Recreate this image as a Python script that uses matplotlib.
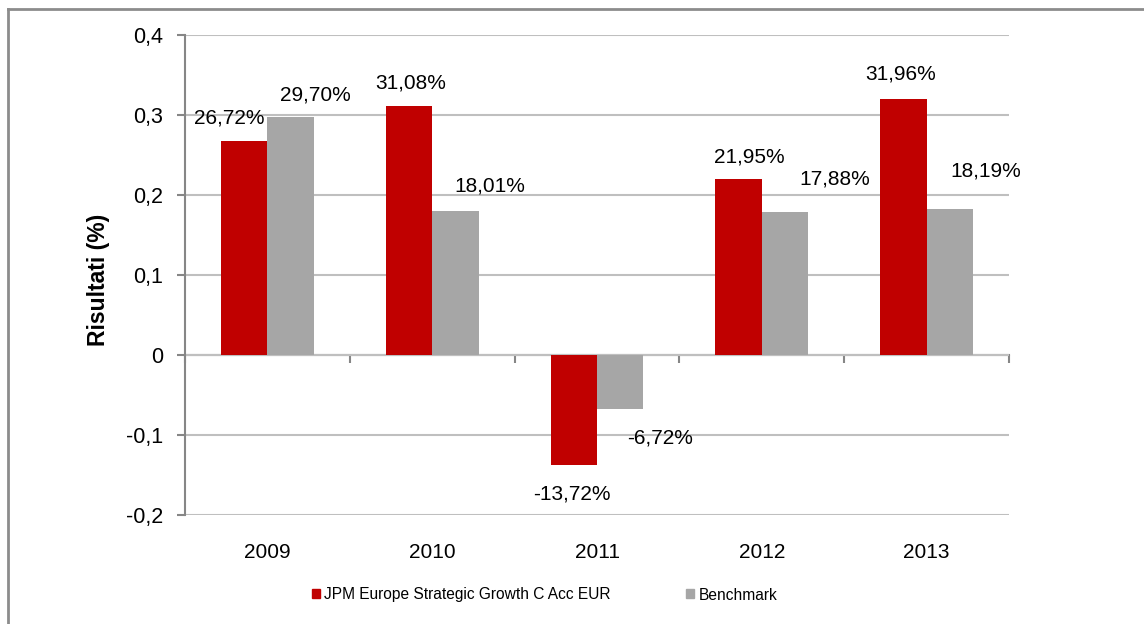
import matplotlib
matplotlib.use("Agg")
import matplotlib.pyplot as plt
from matplotlib.lines import Line2D
from matplotlib.patches import Patch
import numpy as np

years = ["2009", "2010", "2011", "2012", "2013"]
fund_values = [0.2672, 0.3108, -0.1372, 0.2195, 0.3196]
bench_values = [0.2970, 0.1801, -0.0672, 0.1788, 0.1819]
fund_name = "JPM Europe Strategic Growth C Acc EUR"
bench_name = "Benchmark"
y_ticks = [-0.2, -0.1, 0.0, 0.1, 0.2, 0.3, 0.4]

# label offsets (points) from each bar's end
fund_label_offsets = [(-11, 17), (1, 17), (-1, -21), (8, 16), (-2, 18)]
bench_label_offsets = [(18, 16), (25, 18), (29, -21), (36, 24), (26, 28)]

RED = "#C00000"
GRAY = "#A6A6A6"
AXIS = "#868686"
GRID = "#BFBFBF"
FONT = "Liberation Sans"

plt.rcParams["font.family"] = [FONT, "DejaVu Sans"]

fig = plt.figure(figsize=(11.44, 6.24), dpi=100)
ax = fig.add_axes([185 / 1144, 1 - 515 / 624, 824 / 1144, 480 / 624])

x = np.arange(len(years))
w = 0.282
b1 = ax.bar(x - w / 2, fund_values, w, color=RED, label=fund_name, zorder=3)
b2 = ax.bar(x + w / 2, bench_values, w, color=GRAY, label=bench_name, zorder=3)


def fmt_pct(v):
    return f"{v * 100:.2f}%".replace(".", ",")


for bars, vals, offs in ((b1, fund_values, fund_label_offsets),
                         (b2, bench_values, bench_label_offsets)):
    for bar, v, (dx, dy) in zip(bars, vals, offs):
        ax.annotate(fmt_pct(v), (bar.get_x() + bar.get_width() / 2, v),
                    xytext=(dx, dy), textcoords="offset points",
                    ha="center", va="center", fontsize=15, color="black")

ax.set_xlim(-0.5, len(years) - 0.5)
ax.set_ylim(-0.2, 0.4)
ax.set_yticks(y_ticks)
ax.set_yticklabels([("0" if t == 0 else f"{t:.1f}".replace(".", ",")) for t in y_ticks])
ax.yaxis.grid(True, color=GRID, linewidth=1.5, zorder=0)
ax.set_axisbelow(True)

for s in ("top", "right", "bottom"):
    ax.spines[s].set_visible(False)
ax.spines["left"].set_color(AXIS)
ax.spines["left"].set_linewidth(1.5)
ax.tick_params(axis="y", direction="out", length=6, width=1.5, color=AXIS,
               labelsize=15.5, pad=10)

# year labels below the plot
ax.set_xticks(x)
ax.set_xticklabels(years)
ax.tick_params(axis="x", length=0, labelsize=15, pad=20)

# horizontal axis line at zero with category boundary ticks
zero_frac = (0 - (-0.2)) / 0.6
sec = ax.secondary_xaxis(zero_frac)
sec.set_xticks(np.arange(-0.5, len(years), 1.0))
sec.set_xticklabels([])
sec.spines["bottom"].set_color(AXIS)
sec.spines["bottom"].set_linewidth(1.5)
sec.tick_params(axis="x", direction="out", length=6, width=1.5, color=AXIS)

ax.set_ylabel("Risultati (%)", fontsize=16.5, fontweight="bold")
ax.yaxis.set_label_coords(110 / 1144, 1 - 280 / 624, transform=fig.transFigure)

handles = [Patch(color=RED), Patch(color=GRAY)]
leg = fig.legend(handles, [fund_name, bench_name], loc="center",
                 bbox_to_anchor=(544.5 / 1144, 1 - 595 / 624), ncol=2,
                 frameon=False, fontsize=11.2, handlelength=0.51,
                 handleheight=0.51, handletextpad=0.26, columnspacing=4.9,
                 borderpad=0, borderaxespad=0)

# outer chart frame
fig.add_artist(Line2D([8 / 1144, 1.01], [1 - 9 / 624] * 2, color="#8C8C8C",
                      linewidth=2, transform=fig.transFigure))
fig.add_artist(Line2D([8 / 1144] * 2, [-0.01, 1 - 9 / 624], color="#8C8C8C",
                      linewidth=2, transform=fig.transFigure))

fig.savefig("out.png", dpi=100)
